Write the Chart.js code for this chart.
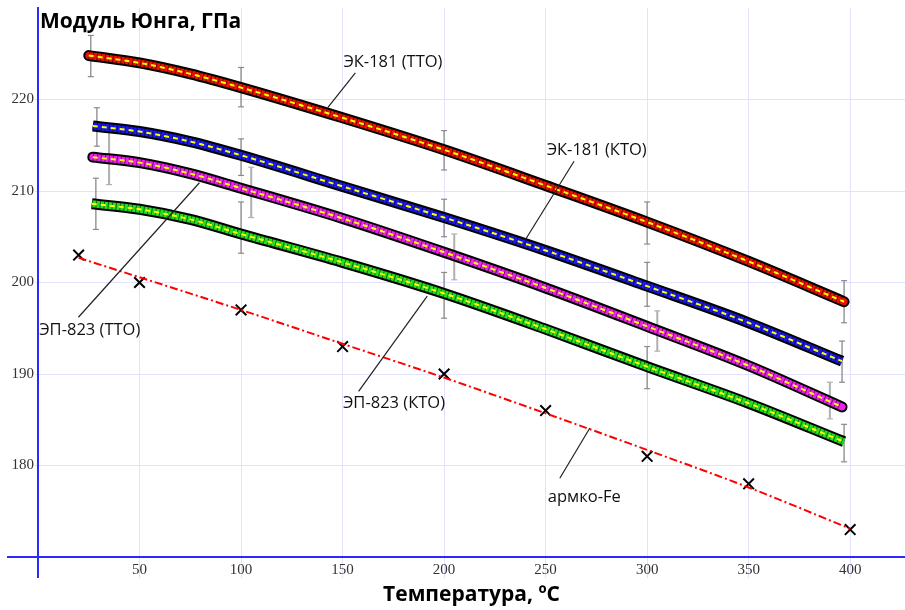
<!DOCTYPE html>
<html>
<head>
<meta charset="utf-8">
<script src="https://cdn.jsdelivr.net/npm/chart.js@4.4.0/dist/chart.umd.min.js"></script>
<style>
  html, body { margin: 0; padding: 0; background: #fff; overflow: hidden; }
  canvas { display: block; }
</style>
</head>
<body>
<canvas id="chart" width="905" height="610"></canvas>
<script>
// Кривые E(T) по сплавам
const ek181ttoT = [25, 50, 75, 100, 150, 200, 250, 300, 350, 397];
const ek181ttoE = [224.8, 224.0, 222.8, 221.3, 218.0, 214.5, 210.6, 206.6, 202.3, 197.9];
const ek181ktoT = [27, 50, 75, 100, 150, 200, 250, 300, 350, 396];
const ek181ktoE = [217.1, 216.5, 215.4, 213.9, 210.5, 207.1, 203.5, 199.6, 195.6, 191.4];
const ep823ttoT = [27, 50, 75, 100, 150, 200, 250, 300, 350, 396];
const ep823ttoE = [213.7, 213.1, 211.9, 210.3, 207.0, 203.3, 199.4, 195.2, 190.9, 186.4];
const ep823ktoT = [26.5, 50, 75, 100, 150, 200, 250, 300, 350, 397];
const ep823ktoE = [208.6, 208.0, 206.9, 205.3, 202.2, 198.8, 194.9, 190.8, 186.8, 182.6];

// Погрешности (T, нижняя, верхняя граница)
const ek181ttoErrT = [26, 100, 200, 300, 397];
const ek181ttoErrLo = [222.5, 219.2, 212.3, 204.2, 195.6];
const ek181ttoErrHi = [227.0, 223.5, 216.6, 208.8, 200.2];
const ek181ktoErrT = [29, 100, 200, 300, 396];
const ek181ktoErrLo = [214.9, 211.7, 205.0, 197.4, 189.1];
const ek181ktoErrHi = [219.1, 215.7, 209.1, 202.2, 193.6];
const ep823ttoErrT = [35, 105, 205, 305, 390];
const ep823ttoErrLo = [210.7, 207.1, 200.3, 192.5, 185.1];
const ep823ttoErrHi = [216.5, 212.6, 205.3, 196.9, 189.1];
const ep823ktoErrT = [28.5, 100, 200, 300, 397];
const ep823ktoErrLo = [205.8, 203.2, 196.1, 188.4, 180.4];
const ep823ktoErrHi = [211.4, 208.8, 201.1, 193.0, 184.5];

// армко-Fe: точки и аппроксимация
const armcoT = [20, 50, 100, 150, 200, 250, 300, 350, 400];
const armcoE = [203, 200, 197, 193, 190, 186, 181, 178, 173];
const armcoFitT = [20, 100, 150, 200, 250, 300, 350, 400];
const armcoFitE = [202.7, 197.0, 193.3, 189.6, 185.7, 181.7, 177.6, 173.1];

// Подписи с выносками (в единицах осей)
const notes = [
  { text: 'ЭК-181 (ТТО)', at: [150.4, 223.5], from: [156.3, 222.9], to: [142.7, 219.1] },
  { text: 'ЭК-181 (КТО)', at: [250.5, 213.9], from: [264.0, 213.25], to: [240.1, 204.7] },
  { text: 'ЭП-823 (ТТО)', at: [0.6, 194.25], from: [19.9, 196.2], to: [79.5, 210.9] },
  { text: 'ЭП-823 (КТО)', at: [150.2, 186.3], from: [157.9, 188.1], to: [191.7, 198.5] },
  { text: 'армко-Fe', at: [251.1, 176.0], from: [257.0, 178.6], to: [271.8, 184.1] }
];

const axisBlue = '#2a2aff';
const gridLav = '#e2e2ff';
const sans = '"Open Sans", "Noto Sans", sans-serif';

const toPts = (xs, ys) => xs.map((x, i) => ({ x: x, y: ys[i] }));

// толстая полоса из маркеров + пунктир аппроксимации
function band(xs, ys, color, cap) {
  const pts = toPts(xs, ys);
  return [
    { data: pts, borderColor: '#000', borderWidth: 11, borderCapStyle: cap, order: 4 },
    { data: pts, borderColor: color, borderWidth: 7, borderCapStyle: cap, order: 3 },
    { data: pts, borderColor: 'rgba(0,0,0,0.55)', borderWidth: 7, borderDash: [1, 3], order: 2 },
    { data: pts, borderColor: '#ffff00', borderWidth: 2, borderDash: [5, 4], order: 1 }
  ];
}

function errBars(xs, lo, hi, color, width) {
  const pts = [];
  xs.forEach((x, i) => {
    pts.push({ x: x, y: lo[i] }, { x: x, y: hi[i] }, { x: x, y: null });
  });
  return {
    data: pts, borderColor: color, borderWidth: width, spanGaps: false,
    pointStyle: 'line', pointRadius: 3, pointBorderColor: color, pointBorderWidth: 1.2,
    cubicInterpolationMode: 'default', tension: 0, order: 6
  };
}

const datasets = [].concat(
  errBars(ek181ttoErrT, ek181ttoErrLo, ek181ttoErrHi, '#8a8a8a', 1.3),
  errBars(ek181ktoErrT, ek181ktoErrLo, ek181ktoErrHi, '#8a8a8a', 1.3),
  errBars(ep823ttoErrT, ep823ttoErrLo, ep823ttoErrHi, '#b0b0b0', 2),
  errBars(ep823ktoErrT, ep823ktoErrLo, ep823ktoErrHi, '#8a8a8a', 1.3),
  band(ek181ttoT, ek181ttoE, '#ee1100', 'round'),
  band(ek181ktoT, ek181ktoE, '#1a1aee', 'butt'),
  band(ep823ttoT, ep823ttoE, '#ee22ee', 'round'),
  band(ep823ktoT, ep823ktoE, '#22e022', 'butt'),
  {
    data: toPts(armcoFitT, armcoFitE), borderColor: '#ff0000', borderWidth: 2,
    borderDash: [8, 3, 2, 3], order: 0
  },
  {
    data: toPts(armcoT, armcoE), showLine: false, pointStyle: 'crossRot', pointRadius: 7.5,
    pointBorderColor: '#000', pointBorderWidth: 2, order: 0
  }
);

const extras = {
  id: 'extras',
  afterDatasetsDraw(chart) {
    const { ctx, scales: { x, y }, chartArea } = chart;
    ctx.save();
    // продолжение оси X влево
    ctx.strokeStyle = axisBlue;
    ctx.lineWidth = 2;
    ctx.beginPath();
    ctx.moveTo(7, chartArea.bottom);
    ctx.lineTo(chartArea.left, chartArea.bottom);
    ctx.stroke();

    // выноски
    ctx.strokeStyle = '#222';
    ctx.lineWidth = 1.2;
    ctx.fillStyle = '#111';
    ctx.font = '16.5px ' + sans;
    ctx.textAlign = 'left';
    ctx.textBaseline = 'alphabetic';
    notes.forEach(n => {
      ctx.beginPath();
      ctx.moveTo(x.getPixelForValue(n.from[0]), y.getPixelForValue(n.from[1]));
      ctx.lineTo(x.getPixelForValue(n.to[0]), y.getPixelForValue(n.to[1]));
      ctx.stroke();
      ctx.fillText(n.text, x.getPixelForValue(n.at[0]), y.getPixelForValue(n.at[1]));
    });

    // заголовок оси Y
    ctx.fillStyle = '#000';
    ctx.font = 'bold 21px ' + sans;
    ctx.fillText('Модуль Юнга, ГПа', 40, 28);
    ctx.restore();
  }
};

new Chart(document.getElementById('chart').getContext('2d'), {
  type: 'line',
  data: { datasets: datasets },
  plugins: [extras],
  options: {
    responsive: false,
    animation: false,
    devicePixelRatio: 1,
    layout: { autoPadding: false, padding: { top: 8, left: 0, right: 0, bottom: 0 } },
    elements: {
      line: { cubicInterpolationMode: 'monotone', fill: false },
      point: { radius: 0 }
    },
    plugins: {
      legend: { display: false },
      tooltip: { enabled: false }
    },
    scales: {
      x: {
        type: 'linear',
        min: 0,
        max: 427,
        afterFit: s => { s.height = 53; s.paddingRight = 0; s.paddingLeft = 0; },
        border: { color: axisBlue, width: 2 },
        grid: {
          color: c => (c.tick && c.tick.value === 0) ? axisBlue : gridLav,
          lineWidth: c => (c.tick && c.tick.value === 0) ? 2 : 1,
          tickLength: 21
        },
        ticks: {
          stepSize: 50,
          includeBounds: false,
          padding: -17,
          maxRotation: 0,
          color: '#333',
          font: { family: '"Liberation Serif", serif', size: 15 },
          callback: v => v === 0 ? '' : v
        },
        title: {
          display: true,
          text: 'Температура, ºС',
          color: '#000',
          font: { family: sans, size: 21, weight: 'bold' },
          padding: { top: 0, bottom: 2 }
        }
      },
      y: {
        min: 170,
        max: 230,
        afterFit: s => { s.width = 38; s.paddingTop = 0; s.paddingBottom = 0; },
        border: { color: axisBlue, width: 2 },
        grid: {
          color: c => (c.tick && c.tick.value === 230) ? 'rgba(0,0,0,0)' : gridLav,
          tickLength: 3
        },
        ticks: {
          stepSize: 10,
          padding: 1,
          color: '#333',
          font: { family: '"Liberation Serif", serif', size: 15 },
          callback: v => (v === 170 || v === 230) ? '' : v
        }
      }
    }
  }
});
</script>
</body>
</html>
